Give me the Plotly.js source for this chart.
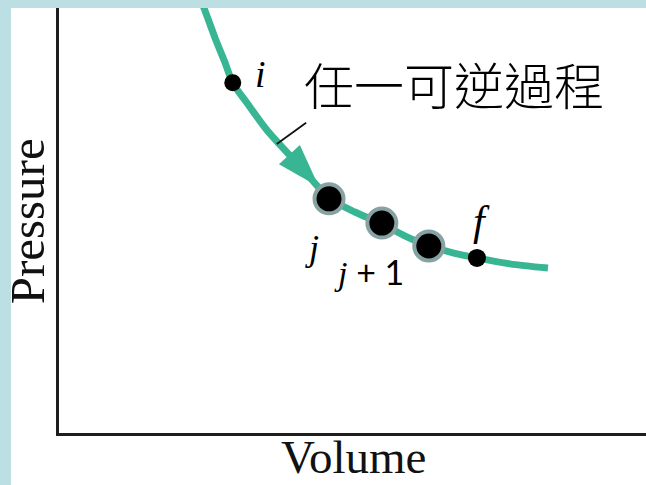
<!DOCTYPE html>
<html>
<head>
<meta charset="utf-8">
<script src="https://cdn.plot.ly/plotly-3.0.1.min.js"></script>
<style>
html, body { margin: 0; padding: 0; background: #ffffff; }
#chart { width: 646px; height: 485px; }
</style>
</head>
<body>
<div id="chart"></div>
<script>
// Process curve (Volume, Pressure) in arbitrary units
var curveV = [2.40, 2.47, 2.66, 2.83, 2.96, 3.20, 3.54, 3.94, 4.28, 4.60, 5.04, 5.50, 5.89, 6.30, 6.71, 7.12, 7.68, 8.33];
var curveP = [10.24, 10.00, 9.29, 8.71, 8.24, 7.77, 7.13, 6.52, 6.00, 5.53, 5.20, 4.92, 4.64, 4.40, 4.24, 4.12, 3.98, 3.88];

// Initial and final states
var endV = [2.96, 7.12];
var endP = [8.24, 4.12];
var endLabels = ['i', 'f'];

// Intermediate states j, j+1, ...
var midV = [4.60, 5.50, 6.30];
var midP = [5.51, 4.94, 4.40];
var midLabels = ['j', 'j + 1'];

// Direction arrow along the curve (from, to)
var arrowV = [3.85, 4.43];
var arrowP = [6.66, 5.79];

// Leader line for the process label
var leaderV = [3.71, 4.21];
var leaderP = [6.80, 7.30];
var processLabel = '任一可逆過程';

var xTitle = 'Volume';
var yTitle = 'Pressure';

var teal = '#38b693';
var serif = 'Liberation Serif, Times New Roman, serif';

var traces = [
  {
    x: curveV, y: curveP, type: 'scatter', mode: 'lines',
    line: {color: teal, width: 7, shape: 'spline', smoothing: 0.8},
    hoverinfo: 'skip', showlegend: false
  },
  {
    x: arrowV, y: arrowP, type: 'scatter', mode: 'markers',
    marker: {symbol: ['circle', 'arrow'], size: [0, 46], color: teal, opacity: 1, angleref: 'previous', line: {width: 0}},
    hoverinfo: 'skip', showlegend: false
  },
  {
    x: leaderV, y: leaderP, type: 'scatter', mode: 'lines',
    line: {color: '#111111', width: 1.8},
    hoverinfo: 'skip', showlegend: false
  },
  {
    x: midV, y: midP, type: 'scatter', mode: 'markers',
    marker: {size: 29, color: '#000000', opacity: 1, line: {color: '#87a2a2', width: 4}},
    hoverinfo: 'skip', showlegend: false
  },
  {
    x: endV, y: endP, type: 'scatter', mode: 'markers',
    marker: {size: [17, 18], color: '#000000', opacity: 1, line: {width: 0}},
    hoverinfo: 'skip', showlegend: false
  }
];

var annotations = [
  {x: endV[0], y: endP[0], xref: 'x', yref: 'y', text: '<i>' + endLabels[0] + '</i>', showarrow: false,
   xshift: 28, yshift: 9, font: {family: serif, size: 38, color: '#000'}},
  {x: endV[1], y: endP[1], xref: 'x', yref: 'y', text: '<i>' + endLabels[1] + '</i>', showarrow: false,
   xshift: 5, yshift: 37, font: {family: serif, size: 42, color: '#000'}},
  {x: midV[0], y: midP[0], xref: 'x', yref: 'y', text: '<i>' + midLabels[0] + '</i>', showarrow: false,
   xshift: -17, yshift: -49, font: {family: serif, size: 36, color: '#000'}},
  {x: midV[1], y: midP[1], xref: 'x', yref: 'y',
   text: '<i>j</i><span style="font-family:Lato">' + midLabels[1].slice(1) + '</span>', showarrow: false,
   xshift: -13, yshift: -48, font: {family: serif, size: 34, color: '#000'}},
  {x: 0.673, y: 0.8235, xref: 'paper', yref: 'paper', text: processLabel, showarrow: false,
   xanchor: 'center', yanchor: 'middle', font: {family: 'Noto Sans CJK TC', size: 50, weight: 300, color: '#000'}},
  {x: 0.501, y: -0.1224, xref: 'paper', yref: 'paper', text: xTitle, showarrow: false,
   xanchor: 'center', yanchor: 'bottom', font: {family: serif, size: 47, color: '#111'}},
  {x: -0.0545, y: 0.498, xref: 'paper', yref: 'paper', text: yTitle, showarrow: false, textangle: -90,
   xanchor: 'center', yanchor: 'middle', font: {family: serif, size: 49, color: '#111'}}
];

var axisBase = {
  range: [0, 10], showline: true, linecolor: '#1e1e1e', linewidth: 3,
  showgrid: false, zeroline: false, showticklabels: false, ticks: '', fixedrange: true
};

var layout = {
  width: 646, height: 485,
  margin: {l: 59, r: 0, t: 8, b: 52},
  paper_bgcolor: '#bbdfe2',
  plot_bgcolor: '#ffffff',
  showlegend: false,
  xaxis: Object.assign({}, axisBase, {title: {text: ''}}),
  yaxis: Object.assign({}, axisBase, {title: {text: ''}}),
  shapes: [
    {type: 'rect', xref: 'paper', yref: 'paper', x0: -0.0818, x1: 1.05, y0: -0.2, y1: 1,
     fillcolor: '#ffffff', line: {width: 0}, layer: 'below'}
  ],
  annotations: annotations
};

Plotly.newPlot('chart', traces, layout, {staticPlot: true, displayModeBar: false});
</script>
</body>
</html>
